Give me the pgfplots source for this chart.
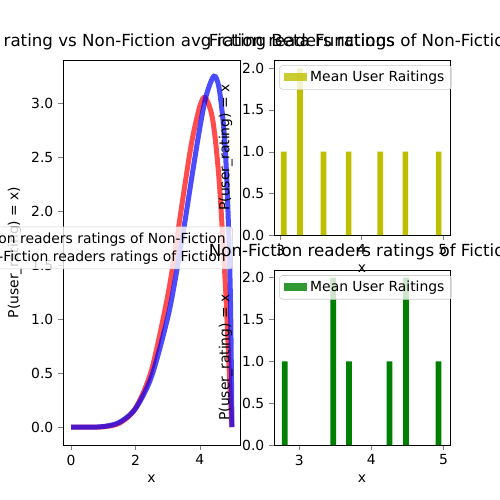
\documentclass[border=0pt]{standalone}
\usepackage{pgfplots}
\pgfplotsset{compat=1.18}
\usepackage{fontspec}
\setmainfont{DejaVu Sans}
\definecolor{myy}{rgb}{0.75,0.75,0}
\definecolor{myg}{rgb}{0,0.5,0}
\begin{document}
\begin{tikzpicture}
\useasboundingbox (0,0) rectangle (360pt,360pt);
\clip (0,0) rectangle (360pt,360pt);
\pgfplotsset{every axis/.style={scale only axis, anchor=south west,
  /pgf/number format/assume math mode=true, font=\fontsize{10}{12}\selectfont,
  tick align=outside, tick pos=left, major tick length=3.5pt,
  title style={font=\fontsize{12}{14}\selectfont, yshift=-2pt},
  yticklabel style={/pgf/number format/.cd,fixed,fixed zerofill,precision=1},
  legend cell align=left,
  legend style={draw=black!20, fill=white, fill opacity=0.8, text opacity=1, rounded corners=2pt}}}
% left
\begin{axis}[at={(45.4pt,39.6pt)}, width=127.4pt, height=277.2pt,
  xmin=-0.25, xmax=5.25, ymin=-0.165, ymax=3.4,
  xtick={0,2,4}, ytick={0,0.5,1,1.5,2,2.5,3},
  xlabel={x}, ylabel={P(user\_rating) = x)},
  title={Fiction avg rating vs Non-Fiction avg rating Beta Functions},
  legend style={at={(0.96,0.512)}, anchor=east}]
\addplot[red, opacity=0.7, line width=3.6pt, smooth] coordinates {
(0,0) (0.5,0) (1,0.004) (1.5,0.037) (2,0.174) (2.5,0.53) (3,1.21) (3.25,1.67) (3.5,2.17) (3.75,2.64) (4,2.97) (4.17,3.05) (4.4,2.85) (4.6,2.29) (4.8,1.29) (4.9,0.63) (4.95,0.29) (5,0)};
\addlegendentry{Fiction readers ratings of Non-Fiction}
\addplot[blue, opacity=0.7, line width=3.6pt, smooth] coordinates {
(0,0) (0.5,0) (1,0.006) (1.5,0.045) (2,0.172) (2.5,0.468) (3,1.01) (3.25,1.39) (3.5,1.83) (3.75,2.31) (4,2.77) (4.2,3.07) (4.44,3.25) (4.6,3.14) (4.75,2.75) (4.85,2.22) (4.95,1.24) (5,0)};
\addlegendentry{Non-Fiction readers ratings of Fiction}
\end{axis}
% top right
\begin{axis}[at={(197.3pt,190.8pt)}, width=126.7pt, height=126pt,
  xmin=2.92, xmax=5.09, ymin=0, ymax=2.1,
  xtick={3,4,5}, ytick={0,0.5,1,1.5,2},
  xlabel={x}, ylabel={P(user\_rating) = x},
  title={Fiction readers ratings of Non-Fiction},
  legend pos=north west,
  legend image code/.code={\fill[#1, sharp corners] (0cm,-0.1cm) rectangle (0.6cm,0.1cm);}]
\addplot[ybar, bar width=0.07, fill=myy, draw=none] coordinates {
(3.04,1) (3.24,2) (3.53,1) (3.84,1) (4.23,1) (4.54,1) (4.95,1)};
\addlegendentry{Mean User Raitings}
\end{axis}
% bottom right
\begin{axis}[at={(197.3pt,39.6pt)}, width=126.7pt, height=126pt,
  xmin=2.65, xmax=5.09, ymin=0, ymax=2.09,
  xtick={3,4,5}, ytick={0,0.5,1,1.5,2},
  xlabel={x}, ylabel={P(user\_rating) = x},
  title={Non-Fiction readers ratings of Fiction},
  legend pos=north west,
  legend image code/.code={\fill[#1, sharp corners] (0cm,-0.1cm) rectangle (0.6cm,0.1cm);}]
\addplot[ybar, bar width=0.079, fill=myg, draw=none] coordinates {
(2.80,1) (3.47,2) (3.69,1) (4.25,1) (4.48,2) (4.93,1)};
\addlegendentry{Mean User Raitings}
\end{axis}
\end{tikzpicture}
\end{document}
